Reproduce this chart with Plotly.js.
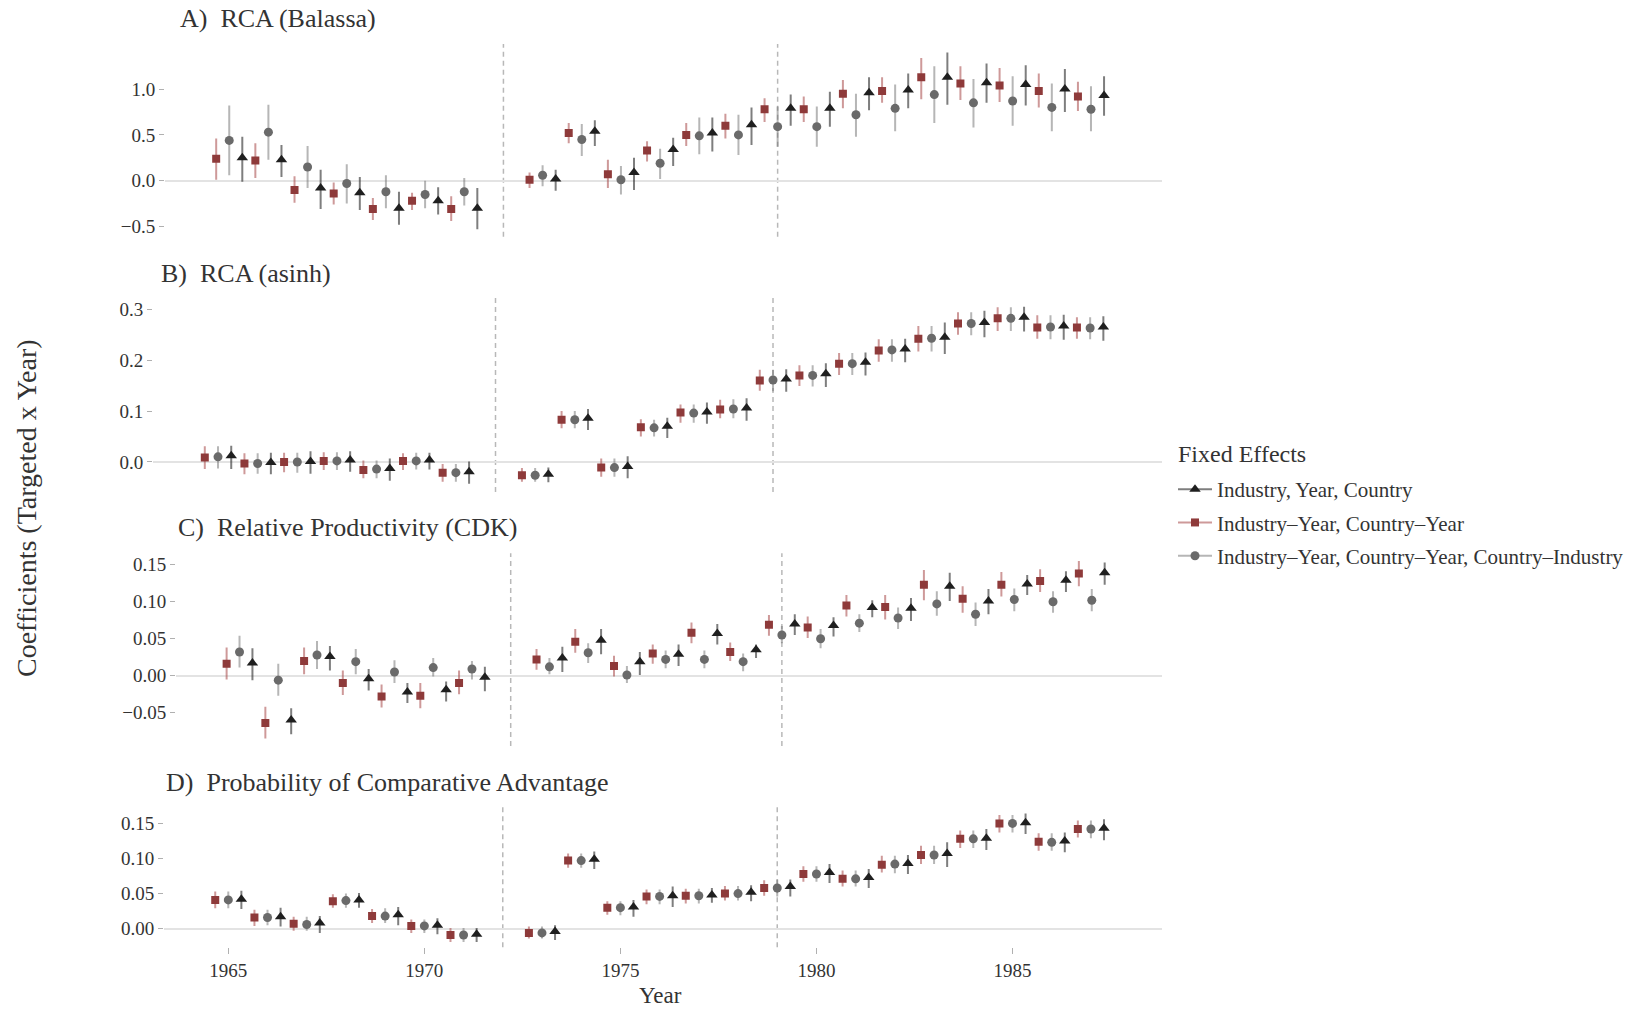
<!DOCTYPE html>
<html><head><meta charset="utf-8">
<script src="https://cdn.plot.ly/plotly-3.0.1.min.js"></script>
<style>html,body{margin:0;padding:0;background:#fff}</style>
</head><body><div id="chart" style="width:1641px;height:1009px"></div>
<script>
// ---------------- DATA ----------------
const years = [1965,1966,1967,1968,1969,1970,1971,1973,1974,1975,1976,1977,1978,1979,1980,1981,1982,1983,1984,1985,1986,1987];
const xTickVals = [1965,1970,1975,1980,1985];
const seriesNames = ["Industry, Year, Country", "Industry\u2013Year, Country\u2013Year", "Industry\u2013Year, Country\u2013Year, Country\u2013Industry"];
const panelTitles = ["A)\u00a0 RCA (Balassa)", "B)\u00a0 RCA (asinh)", "C)\u00a0 Relative Productivity (CDK)", "D)\u00a0 Probability of Comparative Advantage"];
const eventYears = [1972, 1979];

// Panel A: RCA (Balassa)
const A_tri_est = [0.25,0.23,-0.08,-0.13,-0.30,-0.22,-0.30,0.02,0.54,0.09,0.34,0.52,0.61,0.79,0.79,0.96,0.99,1.13,1.07,1.05,1.00,0.93];
const A_tri_lo  = [-0.01,0.04,-0.31,-0.32,-0.48,-0.37,-0.53,-0.11,0.38,-0.10,0.16,0.32,0.39,0.60,0.59,0.77,0.79,0.83,0.85,0.82,0.75,0.71];
const A_tri_hi  = [0.48,0.39,0.12,0.04,-0.12,-0.07,-0.08,0.12,0.66,0.25,0.47,0.69,0.80,0.94,0.97,1.13,1.17,1.40,1.28,1.26,1.22,1.14];
const A_sq_est  = [0.24,0.22,-0.10,-0.14,-0.31,-0.22,-0.31,0.01,0.52,0.07,0.33,0.50,0.60,0.78,0.78,0.95,0.98,1.13,1.06,1.04,0.98,0.92];
const A_sq_lo   = [0.01,0.03,-0.24,-0.26,-0.43,-0.32,-0.44,-0.08,0.41,-0.08,0.21,0.38,0.46,0.64,0.64,0.79,0.85,0.89,0.88,0.86,0.80,0.76];
const A_sq_hi   = [0.46,0.41,0.05,-0.02,-0.19,-0.13,-0.17,0.09,0.63,0.23,0.43,0.63,0.73,0.90,0.92,1.10,1.13,1.34,1.25,1.23,1.17,1.08];
const A_ci_est  = [0.44,0.53,0.15,-0.03,-0.12,-0.15,-0.12,0.06,0.45,0.01,0.19,0.49,0.50,0.59,0.59,0.72,0.79,0.94,0.85,0.87,0.80,0.78];
const A_ci_lo   = [0.06,0.23,-0.08,-0.25,-0.30,-0.30,-0.27,-0.06,0.27,-0.15,0.02,0.29,0.28,0.37,0.37,0.48,0.54,0.63,0.58,0.60,0.54,0.54];
const A_ci_hi   = [0.82,0.83,0.38,0.18,0.06,0.00,0.03,0.17,0.62,0.16,0.35,0.69,0.72,0.81,0.81,0.95,1.05,1.25,1.11,1.14,1.06,1.03];

// Panel B: RCA (asinh)
const B_tri_est = [0.012,-0.001,0.001,0.004,-0.013,0.004,-0.019,-0.024,0.086,-0.009,0.070,0.098,0.106,0.163,0.173,0.196,0.222,0.245,0.274,0.284,0.267,0.265];
const B_tri_lo  = [-0.014,-0.024,-0.023,-0.019,-0.037,-0.015,-0.043,-0.040,0.063,-0.032,0.047,0.075,0.081,0.138,0.147,0.170,0.196,0.212,0.245,0.256,0.240,0.238];
const B_tri_hi  = [0.032,0.018,0.021,0.021,0.007,0.018,0.001,-0.011,0.104,0.011,0.087,0.117,0.125,0.182,0.194,0.215,0.242,0.274,0.297,0.305,0.289,0.286];
const B_sq_est  = [0.009,-0.003,0.000,0.002,-0.016,0.002,-0.021,-0.026,0.083,-0.011,0.068,0.097,0.103,0.160,0.170,0.193,0.219,0.242,0.272,0.282,0.264,0.264];
const B_sq_lo   = [-0.014,-0.024,-0.020,-0.016,-0.032,-0.016,-0.039,-0.039,0.066,-0.029,0.050,0.077,0.086,0.140,0.149,0.171,0.197,0.217,0.250,0.257,0.242,0.242];
const B_sq_hi   = [0.031,0.017,0.018,0.019,0.003,0.017,-0.004,-0.012,0.100,0.007,0.084,0.113,0.122,0.181,0.190,0.214,0.241,0.267,0.294,0.304,0.288,0.284];
const B_ci_est  = [0.010,-0.003,0.000,0.002,-0.014,0.002,-0.021,-0.026,0.083,-0.011,0.067,0.096,0.104,0.161,0.170,0.193,0.220,0.243,0.272,0.282,0.265,0.263];
const B_ci_lo   = [-0.013,-0.023,-0.021,-0.016,-0.032,-0.015,-0.039,-0.039,0.066,-0.029,0.050,0.077,0.086,0.139,0.148,0.171,0.197,0.217,0.249,0.257,0.241,0.241];
const B_ci_hi   = [0.031,0.017,0.018,0.019,0.003,0.018,-0.004,-0.012,0.100,0.007,0.083,0.113,0.123,0.181,0.190,0.214,0.241,0.267,0.294,0.304,0.288,0.284];

// Panel C: Relative Productivity (CDK)
const C_tri_est = [0.017,-0.060,0.026,-0.004,-0.022,-0.019,-0.002,0.024,0.048,0.019,0.029,0.057,0.035,0.070,0.068,0.092,0.091,0.121,0.101,0.124,0.129,0.139];
const C_tri_lo  = [-0.006,-0.079,0.007,-0.020,-0.037,-0.035,-0.021,0.005,0.029,0.001,0.013,0.042,0.024,0.055,0.053,0.079,0.074,0.101,0.083,0.109,0.113,0.123];
const C_tri_hi  = [0.037,-0.044,0.040,0.009,-0.010,-0.008,0.012,0.039,0.063,0.032,0.042,0.070,0.042,0.083,0.079,0.102,0.105,0.139,0.117,0.136,0.141,0.153];
const C_sq_est  = [0.016,-0.064,0.020,-0.010,-0.028,-0.027,-0.010,0.022,0.046,0.013,0.030,0.058,0.032,0.069,0.065,0.095,0.093,0.123,0.104,0.123,0.128,0.138];
const C_sq_lo   = [-0.005,-0.085,0.002,-0.026,-0.043,-0.044,-0.025,0.008,0.031,-0.001,0.016,0.044,0.020,0.054,0.051,0.080,0.076,0.102,0.085,0.107,0.113,0.121];
const C_sq_hi   = [0.038,-0.042,0.038,0.007,-0.012,-0.010,0.007,0.036,0.063,0.027,0.042,0.072,0.045,0.082,0.080,0.109,0.109,0.143,0.121,0.140,0.144,0.155];
const C_ci_est  = [0.032,-0.006,0.028,0.019,0.005,0.011,0.009,0.012,0.031,0.001,0.022,0.022,0.019,0.055,0.050,0.071,0.078,0.097,0.083,0.103,0.100,0.102];
const C_ci_lo   = [0.011,-0.027,0.009,0.002,-0.010,-0.001,-0.005,0.002,0.017,-0.010,0.010,0.010,0.006,0.044,0.037,0.059,0.063,0.081,0.067,0.087,0.085,0.087];
const C_ci_hi   = [0.054,0.016,0.047,0.036,0.021,0.024,0.020,0.024,0.044,0.013,0.034,0.034,0.030,0.067,0.063,0.083,0.092,0.114,0.099,0.118,0.114,0.117];

// Panel D: Probability of Comparative Advantage
const D_tri_est = [0.042,0.017,0.008,0.041,0.020,0.005,-0.008,-0.004,0.099,0.031,0.047,0.048,0.052,0.060,0.080,0.073,0.093,0.107,0.129,0.151,0.125,0.143];
const D_tri_lo  = [0.028,0.003,-0.006,0.030,0.005,-0.008,-0.019,-0.016,0.085,0.017,0.031,0.037,0.039,0.046,0.065,0.058,0.078,0.088,0.112,0.135,0.109,0.126];
const D_tri_hi  = [0.054,0.030,0.018,0.051,0.031,0.015,0.001,0.005,0.110,0.041,0.060,0.058,0.062,0.070,0.092,0.085,0.105,0.123,0.142,0.164,0.137,0.156];
const D_sq_est  = [0.041,0.016,0.007,0.039,0.018,0.004,-0.009,-0.006,0.097,0.030,0.046,0.047,0.050,0.058,0.078,0.071,0.091,0.105,0.128,0.150,0.124,0.142];
const D_sq_lo   = [0.029,0.004,-0.003,0.030,0.008,-0.006,-0.019,-0.014,0.087,0.020,0.035,0.036,0.040,0.047,0.067,0.060,0.080,0.092,0.115,0.137,0.111,0.130];
const D_sq_hi   = [0.053,0.027,0.017,0.049,0.028,0.013,0.001,0.003,0.107,0.039,0.056,0.057,0.061,0.069,0.089,0.083,0.104,0.118,0.140,0.162,0.136,0.154];
const D_ci_est  = [0.041,0.016,0.006,0.040,0.018,0.004,-0.009,-0.006,0.097,0.030,0.046,0.047,0.050,0.058,0.078,0.071,0.092,0.105,0.128,0.150,0.123,0.142];
const D_ci_lo   = [0.029,0.005,-0.003,0.030,0.008,-0.006,-0.019,-0.014,0.087,0.019,0.035,0.036,0.040,0.046,0.067,0.060,0.079,0.092,0.115,0.137,0.111,0.129];
const D_ci_hi   = [0.053,0.027,0.017,0.050,0.029,0.013,0.001,0.003,0.107,0.039,0.056,0.057,0.061,0.070,0.089,0.083,0.104,0.118,0.140,0.162,0.136,0.154];

// ---------------- LAYOUT / STYLE ----------------
const W = 1641, H = 1009;
const FONT = '"Liberation Serif", "DejaVu Serif", serif';
const TXT = '#333333';
const px = v => v / W;
const py = v => 1 - v / H;

const series = [
  {key:'tri', name:seriesNames[0], symbol:'triangle-up', off: 1/3, color:'#1f1f1f', err:'rgba(40,40,40,0.6)', size:10},
  {key:'sq',  name:seriesNames[1], symbol:'square',      off:-1/3, color:'#8e3a3a', err:'rgba(165,70,70,0.55)', size:8},
  {key:'ci',  name:seriesNames[2], symbol:'circle',      off: 0,   color:'#6a6a6a', err:'rgba(110,110,110,0.5)', size:9}
];

const panels = [
  {data:{tri:[A_tri_est,A_tri_lo,A_tri_hi], sq:[A_sq_est,A_sq_lo,A_sq_hi], ci:[A_ci_est,A_ci_lo,A_ci_hi]},
   xdom:[165,1161.5], ydom:[44,236.7], yrange:[-0.611,1.492], tickvals:[-0.5,0,0.5,1], fmt:'.1f', tpos:[178,19]},
  {data:{tri:[B_tri_est,B_tri_lo,B_tri_hi], sq:[B_sq_est,B_sq_lo,B_sq_hi], ci:[B_ci_est,B_ci_lo,B_ci_hi]},
   xdom:[153,1161.5], ydom:[298,492], yrange:[-0.059,0.322], tickvals:[0,0.1,0.2,0.3], fmt:'.1f', tpos:[159,273]},
  {data:{tri:[C_tri_est,C_tri_lo,C_tri_hi], sq:[C_sq_est,C_sq_lo,C_sq_hi], ci:[C_ci_est,C_ci_lo,C_ci_hi]},
   xdom:[176,1161.5], ydom:[553.3,746], yrange:[-0.095,0.1654], tickvals:[-0.05,0,0.05,0.1,0.15], fmt:'.2f', tpos:[176,527]},
  {data:{tri:[D_tri_est,D_tri_lo,D_tri_hi], sq:[D_sq_est,D_sq_lo,D_sq_hi], ci:[D_ci_est,D_ci_lo,D_ci_hi]},
   xdom:[164,1161.5], ydom:[806.7,947.3], yrange:[-0.0265,0.1738], tickvals:[0,0.05,0.1,0.15], fmt:'.2f', tpos:[164,782]}
];

const traces = [];
const layout = {
  width: W, height: H,
  margin: {l:0, r:0, t:0, b:0},
  paper_bgcolor: '#ffffff', plot_bgcolor: '#ffffff',
  font: {family: FONT, color: TXT},
  showlegend: true,
  legend: {
    x: px(1173), xanchor: 'left', y: py(469), yanchor: 'top',
    font: {size: 21, color: TXT, family: FONT},
    tracegroupgap: 3, bgcolor: 'rgba(0,0,0,0)', itemwidth: 34
  },
  shapes: [], annotations: []
};

panels.forEach((p, i) => {
  const n = i === 0 ? '' : String(i + 1);
  const xa = 'x' + n, ya = 'y' + n;
  series.forEach(s => {
    const [est, lo, hi] = p.data[s.key];
    traces.push({
      type: 'scatter', mode: 'markers', xaxis: xa, yaxis: ya, showlegend: false,
      x: years.map(y => y + s.off), y: est,
      marker: {symbol: s.symbol, size: s.size, color: s.color, line: {width: 0}},
      error_y: {type: 'data', symmetric: false,
        array: hi.map((h, k) => h - est[k]), arrayminus: lo.map((l, k) => est[k] - l),
        color: s.err, thickness: 2, width: 0},
      hoverinfo: 'skip'
    });
  });
  const isLast = i === panels.length - 1;
  layout['xaxis' + n] = {
    domain: [px(p.xdom[0]), px(p.xdom[1])], anchor: ya, range: [1963.36, 1988.8],
    showgrid: false, zeroline: false, showline: false,
    showticklabels: isLast, ticks: isLast ? 'outside' : '',
    tickvals: xTickVals, ticklen: 6, tickcolor: '#b0b0b0', tickwidth: 1,
    tickfont: {size: 19, color: TXT, family: FONT}, fixedrange: true
  };
  layout['yaxis' + n] = {
    domain: [py(p.ydom[1]), py(p.ydom[0])], anchor: xa, range: p.yrange,
    showgrid: false, zeroline: true, zerolinecolor: '#e3e3e3', zerolinewidth: 2,
    showline: false, ticks: 'outside', ticklen: 5, tickcolor: '#b0b0b0', tickwidth: 1,
    tickvals: p.tickvals, tickformat: p.fmt,
    tickfont: {size: 19, color: TXT, family: FONT}, fixedrange: true
  };
  eventYears.forEach(ev => {
    layout.shapes.push({type: 'line', xref: xa, yref: ya + ' domain', x0: ev, x1: ev, y0: 0, y1: 1,
      line: {color: '#b8b8b8', width: 1.5, dash: '5px,4px'}, layer: 'below'});
  });
  layout.annotations.push({xref: 'paper', yref: 'paper', x: px(p.tpos[0]), y: py(p.tpos[1]),
    xanchor: 'left', yanchor: 'middle', text: panelTitles[i], showarrow: false,
    font: {size: 26, color: TXT, family: FONT}});
});

// legend-only traces (line through marker key)
series.forEach((s, k) => {
  traces.push({type: 'scatter', mode: 'lines+markers', x: [null], y: [null], xaxis: 'x4', yaxis: 'y4',
    name: s.name, legendgroup: 'g' + k, showlegend: true,
    marker: {symbol: s.symbol, size: s.size, color: s.color}, line: {color: s.err, width: 2}});
});

layout.annotations.push({xref: 'paper', yref: 'paper', x: px(1176), y: py(454),
  text: 'Fixed Effects', showarrow: false, xanchor: 'left', yanchor: 'middle',
  font: {size: 24, color: TXT, family: FONT}});
layout.annotations.push({xref: 'paper', yref: 'paper', x: px(26), y: py(508),
  text: 'Coefficients (Targeted x Year)', textangle: -90, showarrow: false,
  xanchor: 'center', yanchor: 'middle', font: {size: 28, color: TXT, family: FONT}});
layout.annotations.push({xref: 'paper', yref: 'paper', x: px(660), y: py(995),
  text: 'Year', showarrow: false, xanchor: 'center', yanchor: 'middle',
  font: {size: 23, color: TXT, family: FONT}});

Plotly.newPlot('chart', traces, layout, {displayModeBar: false, staticPlot: true});
</script>
</body></html>
